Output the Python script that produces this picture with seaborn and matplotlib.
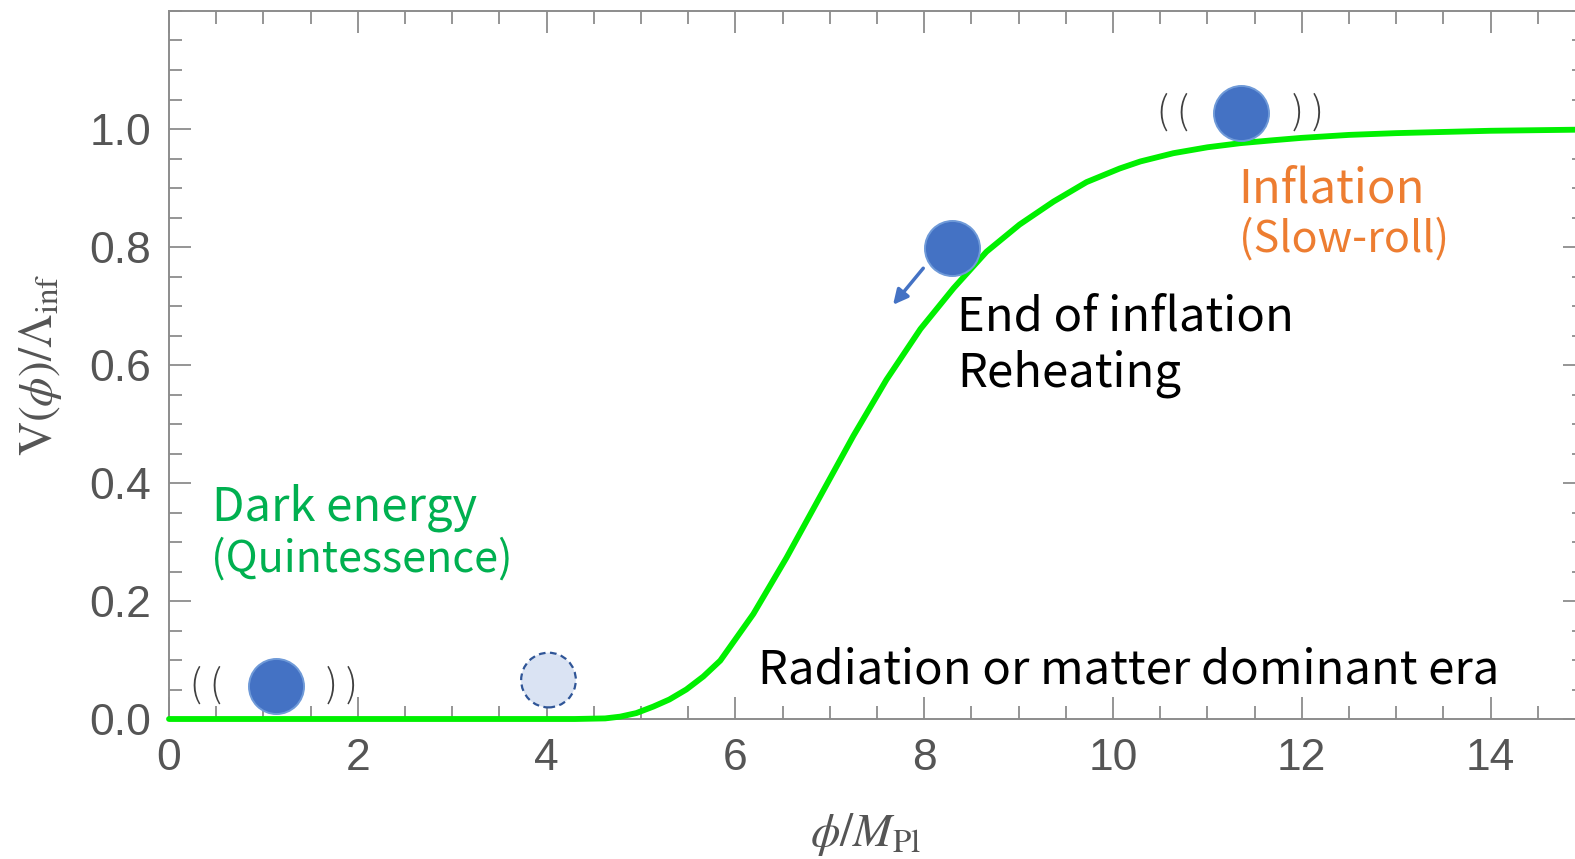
import matplotlib
matplotlib.use("Agg")
import matplotlib.pyplot as plt
from matplotlib.ticker import MultipleLocator, FixedLocator, FormatStrFormatter
import seaborn as sns

# --- data ---
phi = [0, 1, 2, 3, 4, 4.3, 4.62, 4.78, 4.95, 5.13, 5.30, 5.48, 5.66, 5.84,
       6.19, 6.54, 6.90, 7.25, 7.60, 7.96, 8.31, 8.66, 9.01, 9.37, 9.72,
       10.07, 10.29, 10.64, 11.0, 11.35, 11.7, 12.0, 12.5, 13.0, 13.5, 14.0,
       14.5, 15.0]
V = [0, 0, 0, 0, 0, 0, 0.001, 0.004, 0.010, 0.021, 0.033, 0.050, 0.072,
     0.099, 0.178, 0.273, 0.378, 0.480, 0.575, 0.661, 0.730, 0.792, 0.838,
     0.877, 0.910, 0.933, 0.945, 0.959, 0.969, 0.976, 0.981, 0.985, 0.990,
     0.993, 0.995, 0.997, 0.998, 0.999]

ball_x = [1.13, 8.29, 11.36]
ball_y = [0.056, 0.799, 1.027]
ghost_x = [4.02]
ghost_y = [0.066]

y_ticks = [0.0, 0.2, 0.4, 0.6, 0.8, 1.0]

# --- style ---
sns.set_theme(style="ticks")
plt.rcParams["font.family"] = ["Noto Sans CJK JP", "DejaVu Sans"]
plt.rcParams["mathtext.fontset"] = "stix"

axis_gray = "#8c8c8c"
label_gray = "#555555"

fig = plt.figure(figsize=(15.75, 8.59), dpi=100)
ax = fig.add_axes([169 / 1575, 140 / 859, 1416 / 1575, 708 / 859])

sns.lineplot(x=phi, y=V, color="#00f000", lw=4.2, ax=ax, zorder=4)
ax.lines[0].set_clip_on(False)
ax.lines[0].set_solid_joinstyle("round")

sns.scatterplot(x=ghost_x, y=ghost_y, s=1550, color="#dae3f3",
                edgecolor="#2f5597", linewidth=1.6, linestyle=(0, (3, 2)),
                ax=ax, zorder=5, clip_on=False)
sns.scatterplot(x=ball_x, y=ball_y, s=1570, color="#4472c4",
                edgecolor="#6f9ad8", linewidth=1.4, ax=ax, zorder=6,
                clip_on=False)

# arrow for the rolling ball
ax.annotate("", xy=(7.67, 0.702), xytext=(7.99, 0.764),
            arrowprops=dict(arrowstyle="-|>", color="#4472c4", lw=2.5,
                            mutation_scale=22, shrinkA=0, shrinkB=0))

# vibration marks
for x, s in [(0.39, "( ("), (1.83, ") )"), (10.63, "( ("), (12.06, ") )")]:
    y = 0.056 if x < 5 else 1.027
    ax.text(x, y, s, ha="center", va="center", fontsize=27,
            fontweight="light", color="#404040")

# annotations
ax.text(0.46, 0.337, "Dark energy", color="#00b050", fontsize=34,
        va="baseline")
ax.text(0.44, 0.250, "(Quintessence)", color="#00b050", fontsize=31,
        va="baseline")
ax.text(11.33, 0.875, "Inflation", color="#ed7d31", fontsize=34,
        va="baseline")
ax.text(11.33, 0.793, "(Slow-roll)", color="#ed7d31", fontsize=31,
        va="baseline")
ax.text(8.35, 0.658, "End of inflation", color="black", fontsize=34,
        va="baseline")
ax.text(8.35, 0.563, "Reheating", color="black", fontsize=34,
        va="baseline")
ax.text(6.24, 0.061, "Radiation or matter dominant era", color="black",
        fontsize=34, va="baseline")

# axes, frame, ticks
ax.set_xlim(0, 15)
ax.set_ylim(0, 1.2)
ax.xaxis.set_major_locator(MultipleLocator(2))
ax.xaxis.set_minor_locator(MultipleLocator(0.5))
ax.yaxis.set_major_locator(FixedLocator(y_ticks))
ax.yaxis.set_minor_locator(MultipleLocator(0.05))
ax.xaxis.set_major_formatter(FormatStrFormatter("%d"))
ax.yaxis.set_major_formatter(FormatStrFormatter("%.1f"))

for sp in ax.spines.values():
    sp.set_color(axis_gray)
    sp.set_linewidth(1.4)
    sp.set_visible(True)

ax.tick_params(which="both", direction="in", top=True, right=True,
               color=axis_gray, width=1.3, labelcolor=label_gray)
ax.tick_params(which="major", length=16)
ax.tick_params(which="minor", length=9.5)
ax.tick_params(axis="y", labelsize=32, pad=13)
ax.tick_params(axis="x", labelsize=32, pad=14)
for lab in ax.get_xticklabels() + ax.get_yticklabels():
    lab.set_fontfamily("Liberation Sans")

ax.set_xlabel(r"$\phi/M_{\mathrm{Pl}}$", fontsize=34, color=label_gray)
ax.set_ylabel(r"$\mathrm{V}(\phi)/\Lambda_{\mathrm{inf}}$", fontsize=34,
              color=label_gray)
ax.xaxis.set_label_coords(0.492, -0.128)
ax.yaxis.set_label_coords(-0.074, 0.5)

ax.grid(False)
ax.set_facecolor("white")
fig.patch.set_facecolor("white")

fig.savefig("out.png", dpi=100)
